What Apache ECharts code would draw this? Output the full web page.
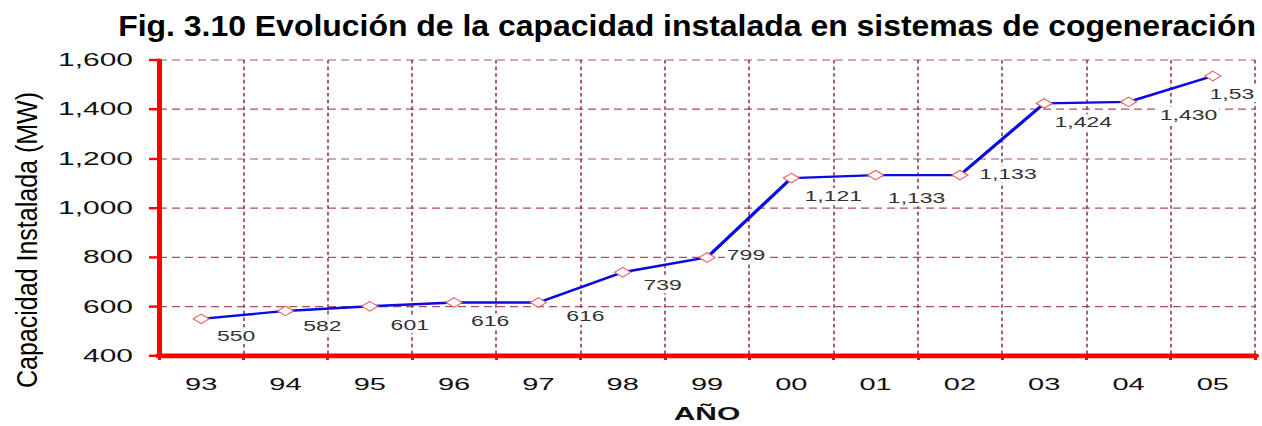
<!DOCTYPE html>
<html lang="es">
<head>
<meta charset="UTF-8" />
<title>Fig. 3.10</title>
<script src="https://cdn.jsdelivr.net/npm/echarts@6/dist/echarts.min.js"></script>
<style>
  html, body { margin: 0; padding: 0; background: #fff; overflow: hidden; }
  /* the source figure is squashed vertically, so draw tall and squeeze */
  #main { width: 1262px; height: 710px; transform: scaleY(0.6); transform-origin: 0 0; }
</style>
</head>
<body>
<div id="main"></div>
<script>
  var SQUASH = 0.6;

  var years = ['93', '94', '95', '96', '97', '98', '99', '00', '01', '02', '03', '04', '05'];
  var capacity = [550, 582, 601, 616, 616, 739, 799, 1121, 1133, 1133, 1424, 1430, 1535];
  var yMin = 400, yMax = 1600, yStep = 200;

  // label nudges from the point, in screen px [dx, dy]
  var labelNudge = [[35, 17], [37, 15], [40, 19], [36, 19], [47, 14], [40, 13], [39, -2],
                    [42, 18], [41, 23], [48, -1], [39, 19], [60, 13], [19, 18]];

  function commas(v) {
    return String(v).replace(/\B(?=(\d{3})+(?!\d))/g, ',');
  }

  var points = capacity.map(function (v, i) {
    var lab = { offset: [labelNudge[i][0], labelNudge[i][1] / SQUASH] };
    if (i === capacity.length - 1) {
      // last label runs off the page in the source
      lab.width = 50;
      lab.overflow = 'truncate';
      lab.ellipsis = '';
    }
    return { value: v, label: lab };
  });

  var chart = echarts.init(document.getElementById('main'), null, { renderer: 'svg' });

  var option = {
    animation: false,
    backgroundColor: '#fff',
    grid: { left: 159, right: 7, top: 100, bottom: 117 },
    graphic: [
      {
        type: 'text',
        x: 1256, y: 26 / SQUASH,
        scaleX: 1.065,
        scaleY: 1 / SQUASH,
        style: {
          text: 'Fig. 3.10 Evolución de la capacidad instalada en sistemas de cogeneración',
          font: 'bold 30px "Liberation Sans", Arial, sans-serif',
          fill: '#000',
          align: 'right', verticalAlign: 'middle',
          textAlign: 'right', textVerticalAlign: 'middle'
        }
      },
      {
        type: 'text',
        x: 27, y: 240 / SQUASH,
        rotation: Math.PI / 2,
        scaleX: 1.39,
        style: {
          text: 'Capacidad Instalada (MW)',
          font: '30px "Liberation Sans", Arial, sans-serif',
          fill: '#000',
          align: 'center', verticalAlign: 'middle',
          textAlign: 'center', textVerticalAlign: 'middle'
        }
      }
    ],
    xAxis: {
      type: 'category',
      data: years,
      boundaryGap: true,
      name: 'AÑO',
      nameLocation: 'middle',
      nameGap: 82,
      nameTextStyle: { fontFamily: 'Liberation Sans', fontWeight: 'bold', fontSize: 30, color: '#111' },
      axisLine: { lineStyle: { color: '#ff0000', width: 8 } },
      axisTick: { show: true, length: 7, lineStyle: { color: '#ff0000', width: 3 } },
      axisLabel: { margin: 33, fontFamily: 'Liberation Sans', fontSize: 29, color: '#111' },
      splitLine: { show: true, lineStyle: { color: '#8b2a4a', width: 1.5, type: [6, 5] } }
    },
    yAxis: {
      type: 'value',
      min: yMin, max: yMax, interval: yStep,
      axisLine: { show: true, lineStyle: { color: '#ff0000', width: 5 } },
      axisTick: { show: true, length: 10, lineStyle: { color: '#ff0000', width: 4 } },
      axisLabel: {
        margin: 26, fontFamily: 'Liberation Sans', fontSize: 30, color: '#111',
        formatter: function (v) { return commas(v); }
      },
      splitLine: { show: true, lineStyle: { color: '#b0505f', width: 2, type: [8, 5] } }
    },
    series: [{
      type: 'line',
      data: points,
      symbol: 'diamond',
      symbolSize: [16, 16],
      lineStyle: { color: '#0a0ae6', width: 4 },
      itemStyle: { color: '#fff', borderColor: '#e8605f', borderWidth: 1.5 },
      label: {
        show: true,
        position: 'inside',
        fontFamily: 'Liberation Sans',
        fontSize: 23,
        color: '#333',
        backgroundColor: '#fff',
        padding: [2, 2],
        formatter: function (p) { return commas(p.value); }
      },
      z: 3
    }]
  };

  chart.setOption(option);
</script>
</body>
</html>
